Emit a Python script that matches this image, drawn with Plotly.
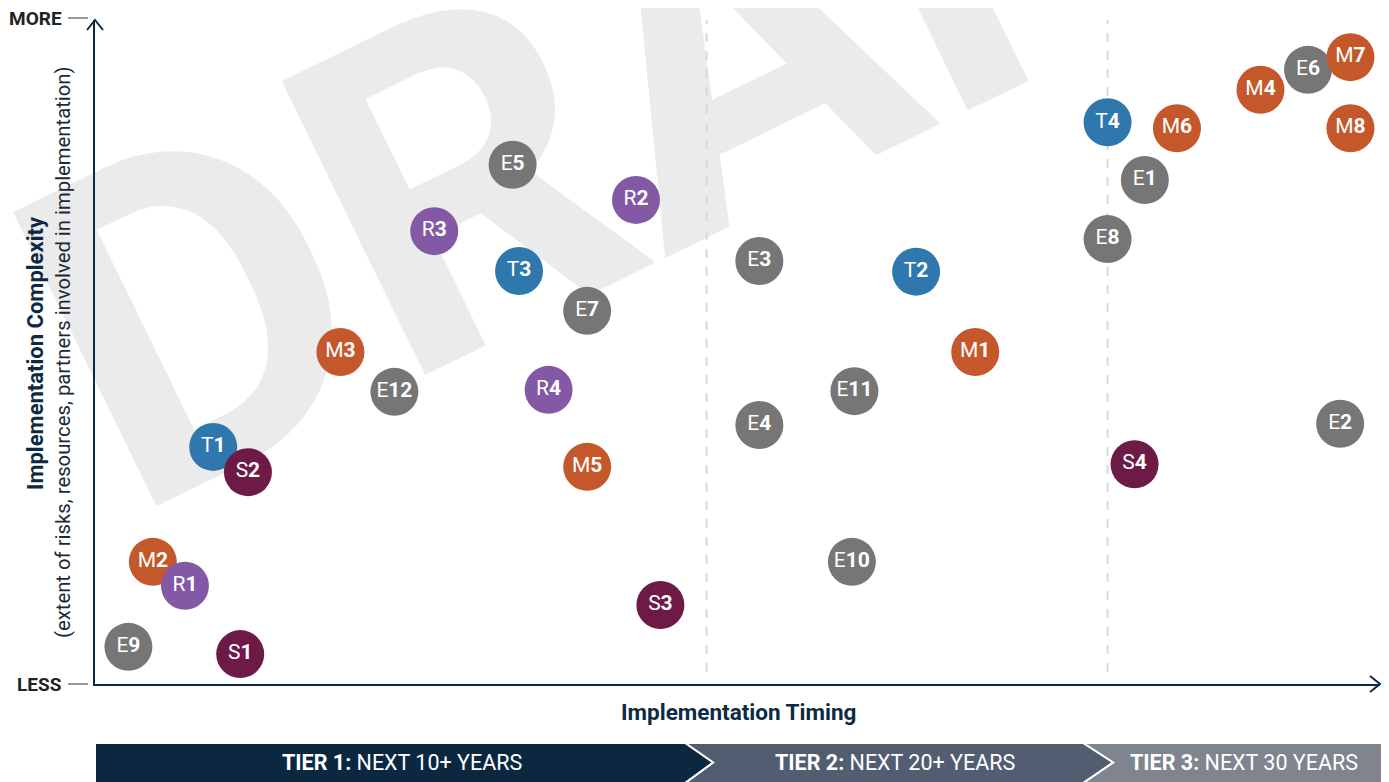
import plotly.graph_objects as go

# ---- data (timing score 0-100, complexity score 0-100) ----
series_names = ["E", "M", "R", "T", "S"]
series_colors = {"E": "#767676", "M": "#c4582a", "R": "#8359a6", "T": "#2f78ad", "S": "#6d1a46"}

labels = ["E9", "S1", "M2", "R1", "T1", "S2", "M3", "E12", "R3", "E5", "T3", "R2", "E7", "R4",
          "M5", "S3", "E3", "E4", "E11", "E10", "T2", "M1", "T4", "M6", "E1", "E8", "S4",
          "M4", "E6", "M7", "M8", "E2"]
timing = [2.6, 11.3, 4.5, 7.0, 9.2, 11.9, 19.1, 23.3, 26.4, 32.5, 33.0, 42.1, 38.3, 35.3,
          38.3, 44.0, 51.7, 51.7, 59.1, 58.9, 63.9, 68.5, 78.8, 84.2, 81.7, 78.8, 80.9,
          90.7, 94.4, 97.7, 97.7, 96.9]
complexity = [5.6, 4.5, 18.4, 14.8, 35.7, 31.9, 50.0, 44.0, 68.2, 78.2, 62.2, 72.9, 56.2, 44.3,
              32.7, 11.9, 63.7, 39.0, 44.1, 18.4, 62.1, 50.0, 84.6, 83.7, 75.9, 67.0, 33.1,
              89.5, 92.5, 94.4, 83.7, 39.2]

tier_bounds = [47.6, 78.8]
tier_labels = ["<b>TIER 1:</b> NEXT 10+ YEARS", "<b>TIER 2:</b> NEXT 20+ YEARS", "<b>TIER 3:</b> NEXT 30 YEARS"]
x_title = "Implementation Timing"
y_title = "Implementation Complexity"
y_subtitle = "(extent of risks, resources, partners involved in implementation)"
axis_ends = ["MORE", "LESS"]
watermark = "DRAFT"

NAVY = "#0d2a42"
OFF = 8  # page body margin
W, H = 1389 - OFF, 782 - OFF
L, R, T, B = 95, 1380, 20, 684  # plot-area edges in page pixels


def px(x):
    return (x - L) / (R - L)


def py(y):
    return (B - y) / (B - T)


fig = go.Figure()

for lab, x, y in zip(labels, timing, complexity):
    fig.add_trace(go.Scatter(
        x=[x], y=[y], mode="markers+text",
        marker=dict(size=48, color=series_colors[lab[0]], line=dict(width=0)),
        text=[f"{lab[0]}<b>{lab[1:]}</b>"], textposition="middle center",
        textfont=dict(family="Roboto", size=21, color="white"),
        hoverinfo="skip", showlegend=False, cliponaxis=False,
    ))

shapes = []
wx, wy = 696, 31
shapes.append(dict(type="rect", xref="paper", yref="paper",
                   x0=px(wx - 20), x1=px(wx + 20), y0=py(wy + 20), y1=py(wy - 20),
                   line=dict(width=0), fillcolor="rgba(0,0,0,0)", layer="below",
                   label=dict(text=watermark, textangle=-26, textposition="middle center",
                              font=dict(family="Roboto", size=460,
                                        color="#ebebeb", weight="bold"))))
for tb in tier_bounds:
    shapes.append(dict(type="line", xref="x", yref="paper", x0=tb, x1=tb, y0=py(672), y1=1,
                       line=dict(color="#d9d9d9", width=2, dash="dash"), layer="below"))


def path(points):
    return "M " + " L ".join(f"{px(a)},{py(b)}" for a, b in points)


shapes.append(dict(type="path", xref="paper", yref="paper",
                   path=path([(87, 30), (95, 20), (103, 30)]),
                   line=dict(color=NAVY, width=2)))
shapes.append(dict(type="path", xref="paper", yref="paper",
                   path=path([(1370, 676), (1380, 684), (1370, 692)]),
                   line=dict(color=NAVY, width=2)))
for yy in (18, 684):
    shapes.append(dict(type="line", xref="paper", yref="paper", x0=px(68), x1=px(88), y0=py(yy), y1=py(yy),
                       line=dict(color="#333333", width=1)))

ym, yt, yb = 762.5, 743, 783
tier_polys = [
    ([(1083, yt), (1387, yt), (1387, yb), (1083, yb), (1113, ym)], "#80848e"),
    ([(685, yt), (1083, yt), (1113, ym), (1083, yb), (685, yb), (713, ym)], "#525d71"),
    ([(95, yt), (685, yt), (713, ym), (685, yb), (95, yb)], "#0b2840"),
]
for pts, col in tier_polys:
    shapes.append(dict(type="path", xref="paper", yref="paper", path=path(pts) + " Z",
                       fillcolor=col, line=dict(color="white", width=2)))

annotations = []
for txt, cx in zip(tier_labels, [402, 895, 1244]):
    annotations.append(dict(text=txt, x=px(cx), y=py(ym), xref="paper", yref="paper",
                            showarrow=False, font=dict(family="Roboto", size=21.5, color="white"),
                            xanchor="center", yanchor="middle"))
annotations.append(dict(text=f"<b>{x_title}</b>", x=px(738), y=py(712), xref="paper", yref="paper",
                        showarrow=False, font=dict(family="Roboto", size=22.5, color=NAVY),
                        xanchor="center", yanchor="middle"))
annotations.append(dict(text=f"<b>{y_title}</b>", x=px(35), y=py(353), xref="paper", yref="paper",
                        showarrow=False, textangle=-90, font=dict(family="Roboto", size=22, color=NAVY),
                        xanchor="center", yanchor="middle"))
annotations.append(dict(text=y_subtitle, x=px(63), y=py(352), xref="paper", yref="paper",
                        showarrow=False, textangle=-90, font=dict(family="Roboto", size=20.3, color="#1c2a38"),
                        xanchor="center", yanchor="middle"))
for txt, yy in zip(axis_ends, (19, 684)):
    annotations.append(dict(text=f"<b>{txt}</b>", x=px(64), y=py(yy), xref="paper", yref="paper",
                            showarrow=False, font=dict(family="Roboto", size=19, color="#222222"),
                            xanchor="right", yanchor="middle"))

fig.update_layout(
    width=W, height=H, margin=dict(l=L - OFF, r=W - (R - OFF), t=T - OFF, b=H - (B - OFF)),
    paper_bgcolor="white", plot_bgcolor="rgba(0,0,0,0)",
    xaxis=dict(range=[0, 100], showgrid=False, zeroline=False, showticklabels=False, ticks="",
               showline=True, linecolor=NAVY, linewidth=2, fixedrange=True),
    yaxis=dict(range=[0, 100], showgrid=False, zeroline=False, showticklabels=False, ticks="",
               showline=True, linecolor=NAVY, linewidth=2, fixedrange=True),
    shapes=shapes, annotations=annotations, showlegend=False,
)

fig.write_html("out.html")
